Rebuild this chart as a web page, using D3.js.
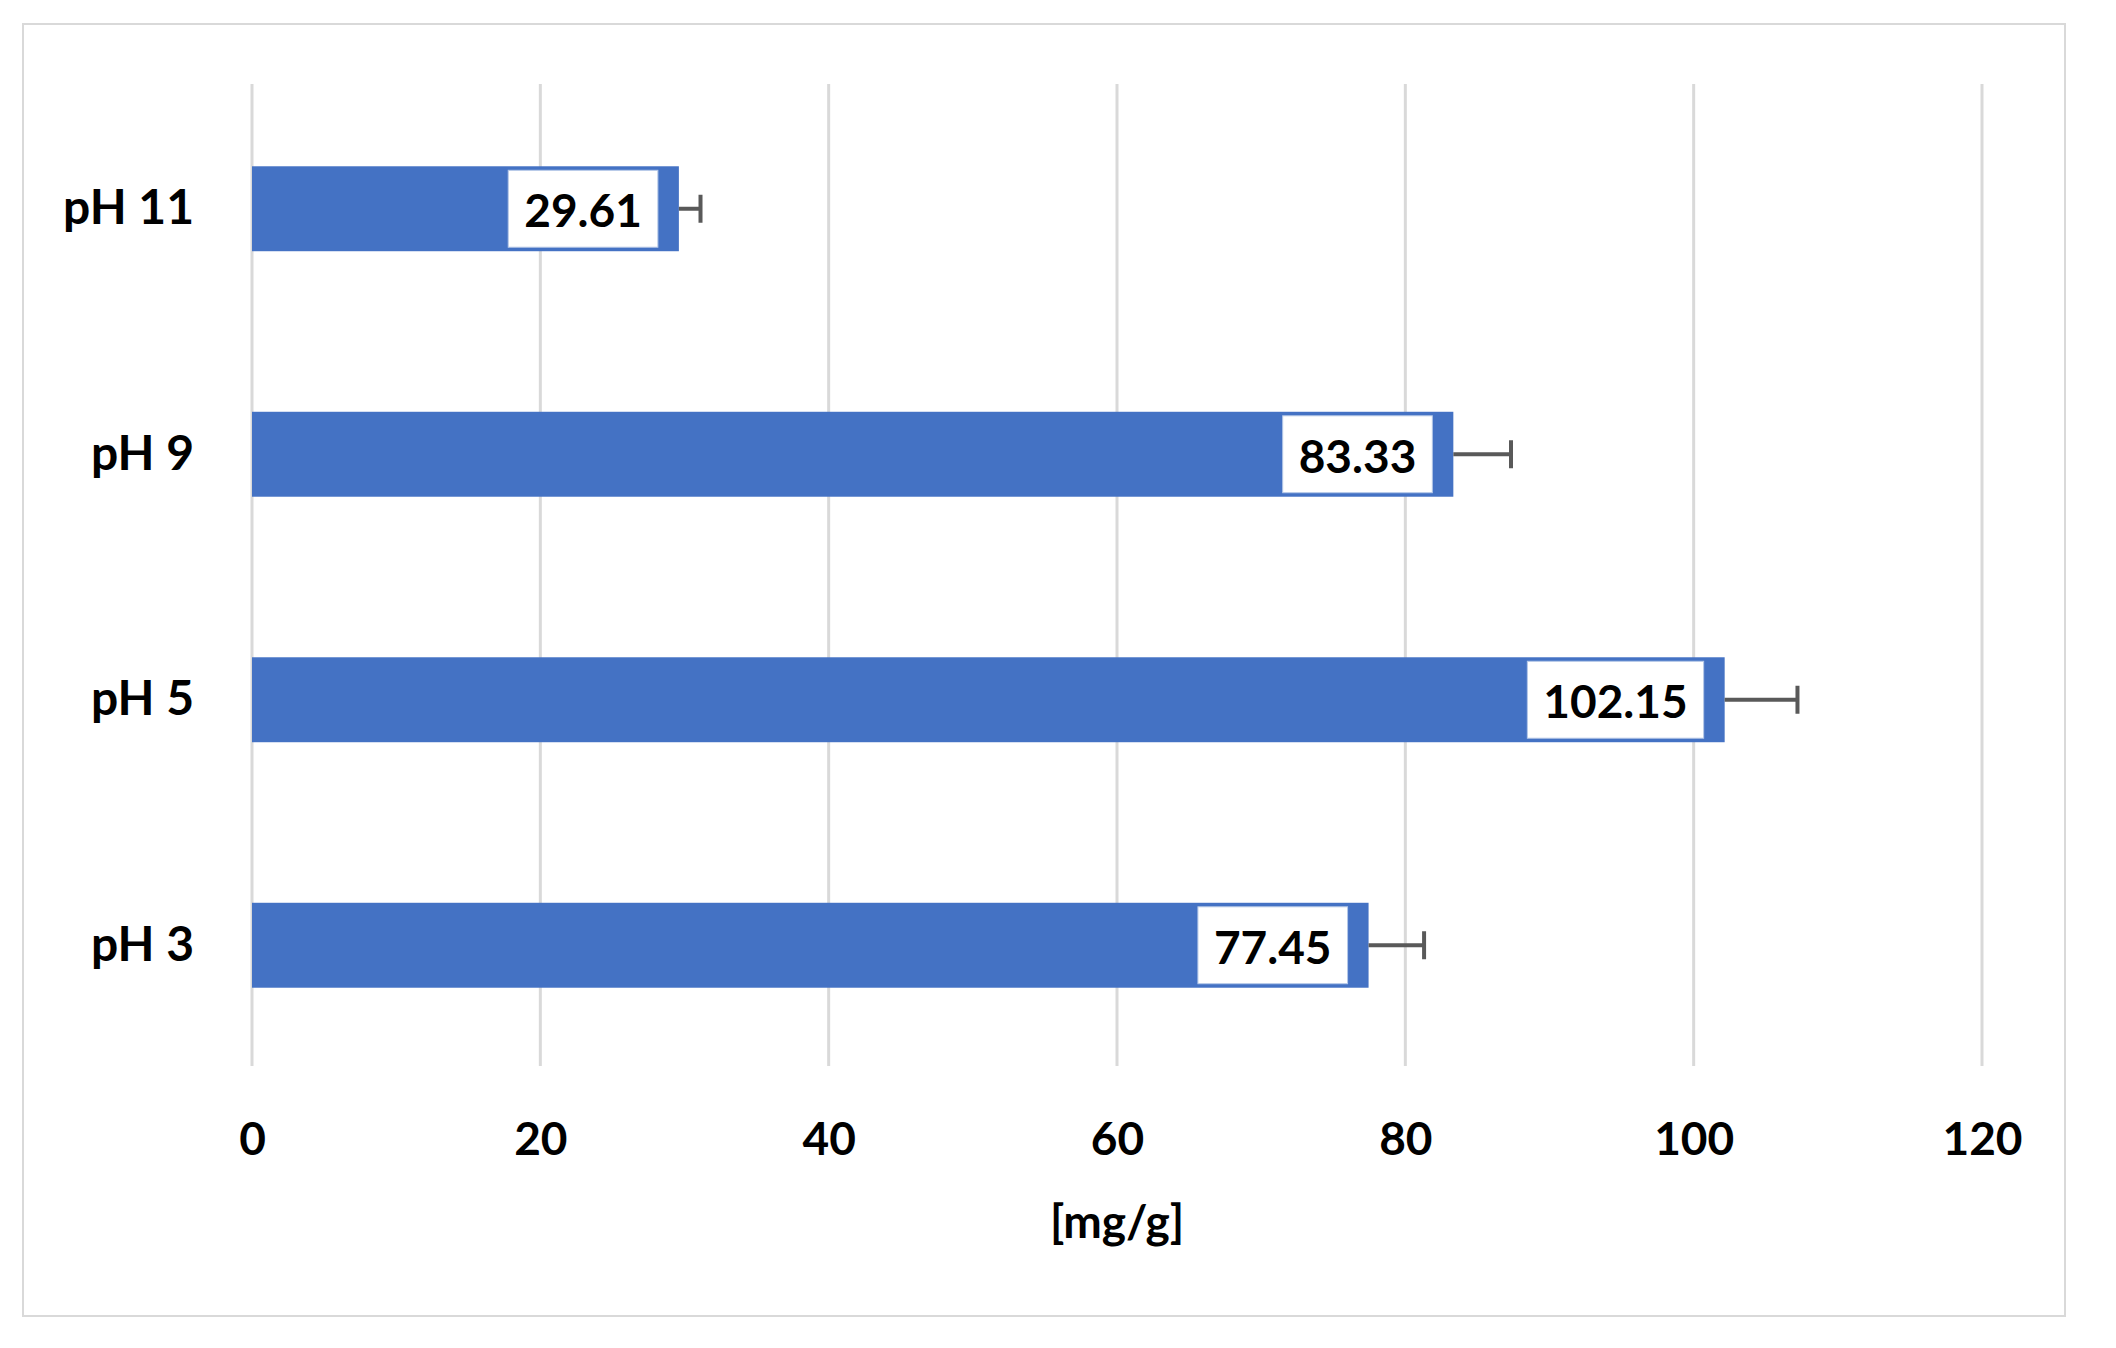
<!DOCTYPE html>
<html><head><meta charset="utf-8">
<script src="https://cdn.jsdelivr.net/npm/d3@7"></script>
<style>body{margin:0;background:#fff;} svg{display:block;}</style>
</head><body>
<script>
const categories = ["pH 11", "pH 9", "pH 5", "pH 3"];
const values = [29.61, 83.33, 102.15, 77.45];
const errors = [1.5, 4.0, 5.05, 3.85];
const xTicks = [0, 20, 40, 60, 80, 100, 120];
const axisTitle = "[mg/g]";

const W = 2116, H = 1348;
const svg = d3.select("body").append("svg").attr("width", W).attr("height", H);
const font = "Lato, 'Open Sans', sans-serif";

svg.append("rect").attr("x", 23).attr("y", 24).attr("width", 2042).attr("height", 1292)
  .attr("fill", "#fff").attr("stroke", "#d9d9d9").attr("stroke-width", 2);

const pLeft = 252, pRight = 1982, pTop = 84, pBottom = 1066;
const x = d3.scaleLinear().domain([0, 120]).range([pLeft, pRight]);
const y = d3.scaleBand().domain(categories).range([pTop, pBottom]).paddingInner(0.654).paddingOuter(0.327);

// gridlines
svg.append("g").selectAll("line").data(xTicks).join("line")
  .attr("x1", d => x(d)).attr("x2", d => x(d)).attr("y1", pTop).attr("y2", pBottom)
  .attr("stroke", "#d9d9d9").attr("stroke-width", 3);

// x tick labels via axis
const xAxis = svg.append("g").attr("transform", `translate(0,${pBottom})`)
  .call(d3.axisBottom(x).tickValues(xTicks).tickSize(0).tickPadding(56));
xAxis.select(".domain").remove();
xAxis.selectAll("text").attr("font-family", font).attr("font-weight", "bold")
  .attr("font-size", 46).attr("fill", "#000");

// y labels via axis
const yAxis = svg.append("g").attr("transform", `translate(${pLeft},0)`)
  .call(d3.axisLeft(y).tickSize(0).tickPadding(58));
yAxis.select(".domain").remove();
yAxis.selectAll("text").attr("font-family", font).attr("font-weight", "bold")
  .attr("font-size", 48).attr("fill", "#000").attr("dy", "0.36em");

// bars
svg.append("g").selectAll("rect").data(values).join("rect")
  .attr("x", x(0)).attr("y", (d, i) => y(categories[i]) + 2)
  .attr("width", d => x(d) - x(0)).attr("height", y.bandwidth())
  .attr("fill", "#4472C4");

// error bars
const eg = svg.append("g").attr("stroke", "#595959").attr("stroke-width", 4);
values.forEach((v, i) => {
  const cy = y(categories[i]) + 2 + y.bandwidth() / 2;
  eg.append("line").attr("x1", x(v)).attr("x2", x(v + errors[i])).attr("y1", cy).attr("y2", cy);
  eg.append("line").attr("x1", x(v + errors[i])).attr("x2", x(v + errors[i]))
    .attr("y1", cy - 14).attr("y2", cy + 14);
});

// data labels
const lg = svg.append("g");
values.forEach((v, i) => {
  const cy = y(categories[i]) + 2 + y.bandwidth() / 2;
  const txt = lg.append("text").text(v.toFixed(2))
    .attr("font-family", font).attr("font-weight", "bold").attr("font-size", 46)
    .attr("fill", "#000").attr("text-anchor", "end").attr("dy", "0.36em");
  const tw = txt.node().getComputedTextLength();
  const bx2 = x(v) - 21, pad = 16;
  txt.attr("x", bx2 - pad).attr("y", cy + 2);
  lg.insert("rect", "text").attr("x", bx2 - tw - 2 * pad).attr("y", y(categories[i]) + 6)
    .attr("width", tw + 2 * pad).attr("height", y.bandwidth() - 8)
    .attr("fill", "#fff").attr("stroke", "#b4c7e7").attr("stroke-width", 1);
});

svg.append("text").text(axisTitle).attr("x", (pLeft + pRight) / 2).attr("y", 1221)
  .attr("text-anchor", "middle").attr("dy", "0.36em")
  .attr("font-family", font).attr("font-weight", "bold").attr("font-size", 46).attr("fill", "#000");
</script>
</body></html>
